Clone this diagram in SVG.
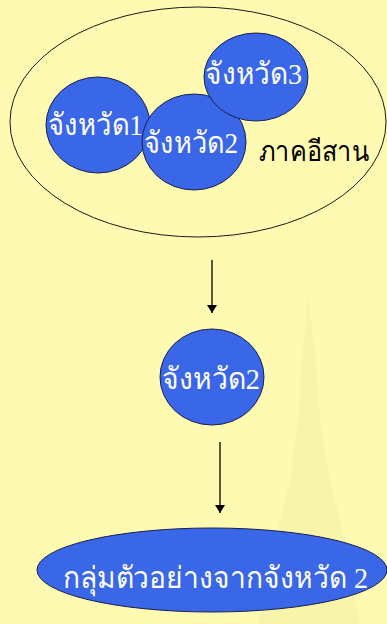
<svg xmlns="http://www.w3.org/2000/svg" width="387" height="624" viewBox="0 0 387 624">
<style>
.bg{fill:#FFFAB2}
.blob{fill:#3A66E8;stroke:#1A2050;stroke-width:1}
.wt{fill:#FFFFFF;font-family:"Liberation Serif","DejaVu Serif",serif;font-size:30px}
.bt{fill:#000000;font-family:"Liberation Serif","DejaVu Serif",serif;font-size:28px}
.conn{stroke:#000;stroke-width:1.3;fill:none}
</style>
<defs>
<marker id="ah" viewBox="0 0 8 12" refX="8" refY="6" markerWidth="8" markerHeight="12" markerUnits="userSpaceOnUse" orient="auto">
<path d="M0,1 L8,6 L0,11 z" fill="#000"/>
</marker>
</defs>
<rect class="bg" x="0" y="0" width="387" height="624"/>
<polygon points="308,292 312,330 316,360 320,420 330,480 345,540 360,624 258,624 275,540 290,480 298,420 302,360 305,330" fill="#EDEB9C" opacity="0.4"/>
<g id="region">
<ellipse cx="198" cy="122" rx="188" ry="115" fill="none" stroke="#1A1A1A" stroke-width="1"/>
<text class="bt" x="259" y="161" textLength="110" lengthAdjust="spacingAndGlyphs">ภาคอีสาน</text>
</g>
<g id="p1">
<ellipse class="blob" cx="98" cy="125" rx="52" ry="48"/>
<text class="wt" x="48" y="135" textLength="95" lengthAdjust="spacingAndGlyphs">จังหวัด1</text>
</g>
<g id="p2">
<ellipse class="blob" cx="194" cy="142" rx="52" ry="48"/>
<text class="wt" x="144" y="153" textLength="94" lengthAdjust="spacingAndGlyphs">จังหวัด2</text>
</g>
<g id="p3">
<ellipse class="blob" cx="256" cy="77" rx="52" ry="44"/>
<text class="wt" x="205" y="84" textLength="97" lengthAdjust="spacingAndGlyphs">จังหวัด3</text>
</g>
<g id="p2b">
<ellipse class="blob" cx="212" cy="377" rx="52" ry="48"/>
<text class="wt" x="162" y="389" textLength="98" lengthAdjust="spacingAndGlyphs">จังหวัด2</text>
</g>
<g id="sample">
<ellipse class="blob" cx="212" cy="570" rx="175" ry="42"/>
<text class="wt" x="63" y="588" textLength="305" lengthAdjust="spacingAndGlyphs">กลุ่มตัวอย่างจากจังหวัด 2</text>
</g>
<g id="connectors">
<line class="conn" x1="212" y1="260" x2="212" y2="313" marker-end="url(#ah)"/>
<line class="conn" x1="220" y1="442" x2="220" y2="513" marker-end="url(#ah)"/>
</g>
</svg>
